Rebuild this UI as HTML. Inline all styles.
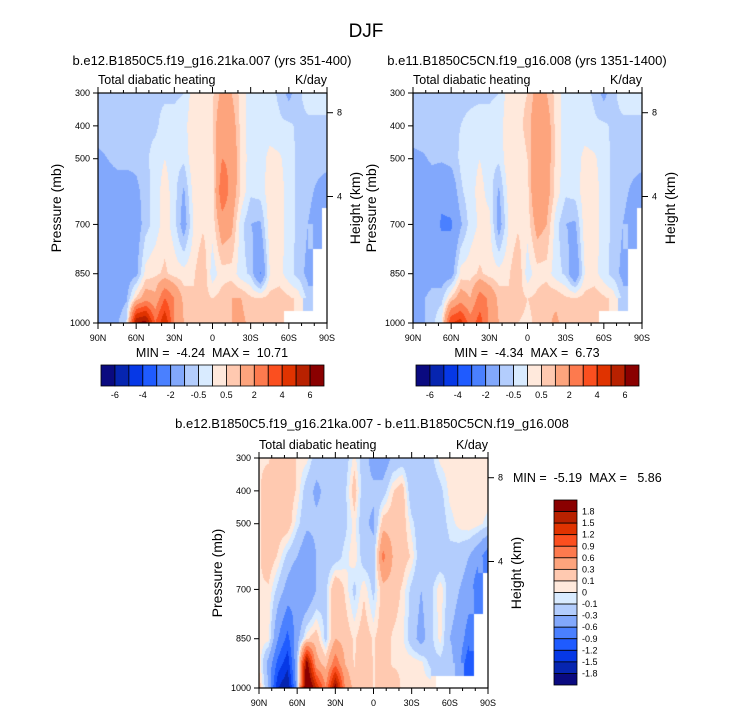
<!DOCTYPE html>
<html><head><meta charset="utf-8"><style>
body{margin:0;background:#fff;width:733px;height:712px;overflow:hidden;position:relative;font-family:"Liberation Sans",sans-serif}
canvas{position:absolute}
svg{position:absolute;left:0;top:0}
svg text{white-space:pre}
</style></head><body>
<canvas id="c1" width="229" height="230" style="left:98px;top:93px"></canvas>
<canvas id="c2" width="229" height="230" style="left:413px;top:93px"></canvas>
<canvas id="c3" width="229" height="230" style="left:259px;top:458px"></canvas>
<svg id="s" width="733" height="712"></svg>
<script>
const lats=[90,82.5,75,67.5,60,52.5,45,37.5,30,22.5,15,7.5,0,-7.5,-15,-22.5,-30,-37.5,-45,-52.5,-60,-67.5,-75,-82.5,-90];
const levels=[300,400,500,600,700,850,925,1000];
const N=NaN;
const field1=[
[-0.6,-0.6,-0.6,-0.6,-0.6,-0.6,-0.6,-0.6,-0.6,-0.5,0.3,0.3,0.4,1.2,1.0,0.3,-0.3,-0.3,-0.3,-0.6,-1.2,-0.6,-0.3,-0.3,-0.3],
[-0.6,-0.6,-0.6,-0.6,-0.6,-0.6,-0.6,-0.3,-0.3,-0.2,0.4,0.3,0.5,1.8,1.5,0.3,-0.3,-0.3,-0.3,-0.4,-0.4,-0.6,-0.6,-0.6,-0.6],
[-1.2,-1.0,-0.8,-0.8,-0.8,-0.6,-0.3,0.0,-0.3,-0.4,0.4,0.3,0.3,2.0,1.8,0.4,-0.3,-0.3,0.2,0.1,-0.3,-0.6,-0.6,-0.6,-0.6],
[-1.4,-1.4,-1.4,-1.4,-1.2,-0.7,-0.3,0.3,-0.3,-1.1,0.2,0.4,0.2,2.8,1.6,0.4,-0.4,-0.3,0.3,0.3,-0.3,-0.6,-0.7,-1.2,-1.6],
[-1.4,-1.4,-1.4,-1.4,-1.4,-0.7,-0.3,0.3,-0.3,-1.4,0.0,0.4,0.2,1.5,1.2,-0.3,-1.0,-1.1,0.3,0.3,-0.3,-0.6,-1.0,-1.6,N],
[-1.4,-1.4,-1.8,-1.4,-1.2,0.2,0.4,0.6,0.3,0.2,0.4,1.0,-0.3,0.3,0.3,-0.3,-0.6,-2.1,0.0,0.2,-0.3,-0.7,-1.2,N,N],
[-1.4,-1.4,-1.4,-1.1,0.6,1.5,1.2,3.0,2.0,0.8,0.6,0.7,0.5,0.7,1.0,1.0,0.6,0.5,0.7,0.8,0.6,0.3,-0.7,N,N],
[-1.4,-1.4,-1.1,-0.4,6.0,6.5,3.0,5.0,2.0,1.0,0.7,0.5,0.5,0.7,1.0,1.2,0.8,0.6,0.8,0.6,N,N,N,N,N]];
const field2=[
[-0.6,-0.6,-0.6,-0.6,-0.6,-0.6,-0.6,-0.6,-0.6,-0.5,0.3,0.4,0.5,1.3,1.0,0.3,-0.3,-0.3,-0.3,-0.6,-1.2,-0.6,-0.3,-0.3,-0.3],
[-0.6,-0.6,-0.6,-0.6,-0.6,-0.5,-0.4,-0.3,-0.3,-0.2,0.3,0.4,0.6,1.8,1.5,0.3,-0.3,-0.3,-0.3,-0.4,-0.4,-0.6,-0.6,-0.6,-0.6],
[-1.2,-1.1,-0.9,-0.9,-0.8,-0.4,-0.2,0.0,-0.3,-0.4,0.4,0.3,0.5,1.8,1.5,0.3,-0.3,-0.3,0.2,0.1,-0.3,-0.6,-0.6,-0.6,-0.6],
[-1.4,-1.4,-1.4,-1.8,-1.6,-0.6,-0.2,0.2,-0.2,-1.1,0.2,0.4,0.3,2.0,1.4,0.3,-0.4,-0.3,0.3,0.3,-0.3,-0.6,-0.7,-1.2,-1.6],
[-1.4,-1.4,-1.6,-2.1,-2.1,-1.1,-0.3,0.1,0.2,-1.4,0.0,0.4,0.2,1.3,1.0,-0.3,-1.0,-1.1,0.3,0.3,-0.3,-0.6,-1.0,-1.6,N],
[-1.4,-1.6,-1.4,-1.4,-1.4,0.2,0.3,0.6,0.3,0.2,0.4,1.0,-0.3,0.3,0.3,-0.3,-0.6,-1.8,0.0,0.2,-0.3,-0.7,-1.2,N,N],
[-1.4,-1.1,-0.7,-0.7,0.6,1.5,1.0,2.5,1.8,0.8,0.6,0.7,0.5,0.6,0.9,0.9,0.6,0.5,0.7,0.8,0.6,0.3,-0.7,N,N],
[-1.4,-1.1,-0.7,0.0,4.0,4.5,2.5,3.5,1.8,1.0,0.7,0.5,0.4,0.6,0.9,1.1,0.8,0.6,0.8,0.6,N,N,N,N,N]];
const field3=[
[0.08,0.08,0.2,0.2,0.08,0.04,-0.2,-0.25,-0.25,-0.2,0.04,-0.2,-0.4,-0.5,-0.25,-0.2,-0.25,-0.2,-0.15,0.04,0.08,0.08,0.08,0.08,0.08],
[0.08,0.2,0.2,0.2,0.08,-0.2,-0.35,-0.25,-0.2,-0.15,0.2,-0.25,-0.25,-0.2,0.08,0.2,-0.25,-0.25,-0.25,-0.15,0.04,0.08,0.08,0.08,0.08],
[0.08,0.2,0.2,0.2,-0.05,-0.25,-0.25,-0.25,-0.2,-0.15,0.04,-0.25,-0.35,0.2,0.2,0.2,-0.05,-0.25,-0.25,-0.2,-0.05,0.04,0.08,0.04,-0.05],
[0.08,0.2,0.08,-0.15,-0.3,-0.5,-0.3,-0.25,-0.2,-0.05,0.08,-0.2,-0.2,0.7,0.3,0.2,0.08,-0.25,-0.25,-0.25,-0.15,-0.2,-0.3,-0.5,-0.8],
[0.08,0.08,-0.15,-0.4,-0.6,-0.6,-0.3,-0.15,0.3,0.08,-0.15,0.08,-0.15,0.2,0.2,0.08,-0.15,-0.3,-0.15,0.08,-0.2,-0.3,-0.4,-0.9,N],
[0.08,0.04,-0.6,-1.0,-0.4,0.08,0.2,-0.15,0.3,0.2,0.08,0.2,0.08,0.2,0.08,0.04,-0.2,-0.4,-0.15,0.04,-0.3,-0.4,-0.8,N,N],
[0.08,-0.4,-1.0,-1.4,-0.3,2.0,0.4,0.2,0.8,0.3,0.08,0.3,0.08,0.2,0.08,0.08,0.08,0.04,-0.15,-0.15,-0.2,-0.5,-1.2,N,N],
[0.2,-0.3,-1.5,-1.8,-0.4,2.5,1.5,0.6,2.0,0.6,0.2,0.3,0.08,0.2,0.2,0.08,0.08,0.04,0.08,N,N,N,N,N,N]];
const bounds12=[-6,-5,-4,-3,-2,-1,-0.5,0,0.5,1,2,3,4,5,6];
const bounds3=[-1.8,-1.5,-1.2,-0.9,-0.6,-0.3,-0.1,0,0.1,0.3,0.6,0.9,1.2,1.5,1.8];
const cbLabels12=["-6","-4","-2","-0.5","0.5","2","4","6"];
const cbLabels3=["1.8","1.5","1.2","0.9","0.6","0.3","0.1","0","-0.1","-0.3","-0.6","-0.9","-1.2","-1.5","-1.8"];
const xTickLabels=["90N","60N","30N","0","30S","60S","90S"];
const yTickLabels=[300,400,500,700,850,1000];
const hTicks=[{k:8,p:360},{k:4,p:615}];
const colors=["#0a0a80","#0625b0","#0638e6","#1f5bff","#4a80ff","#82a8fc","#b3cdfd","#d9ebff","#ffe9dc","#ffc9b0","#fda47d","#fd7a4e","#fb4f1f","#e03300","#b82100","#8a0000"];
const PW=229,PH=230;

function color(v,b){let i=0;while(i<b.length&&v>=b[i])i++;return colors[i];}
function hex(c){return [parseInt(c.substr(1,2),16),parseInt(c.substr(3,2),16),parseInt(c.substr(5,2),16)];}
function sample(f,li,pj){
  const i0=Math.min(Math.floor(li),lats.length-2),j0=Math.min(Math.floor(pj),levels.length-2);
  const fx=li-i0,fy=pj-j0;
  const a=f[j0][i0],b=f[j0][i0+1],c=f[j0+1][i0],d=f[j0+1][i0+1];
  if(isNaN(a)||isNaN(b)||isNaN(c)||isNaN(d)){
    const n=f[Math.round(pj)][Math.round(li)];return n;}
  return a*(1-fx)*(1-fy)+b*fx*(1-fy)+c*(1-fx)*fy+d*fx*fy;
}
function pIndex(p){for(let j=0;j<levels.length-1;j++){if(p<=levels[j+1])return j+(p-levels[j])/(levels[j+1]-levels[j]);}return levels.length-1;}
function drawField(id,f,b){
  const cv=document.getElementById(id),ctx=cv.getContext('2d');
  const img=ctx.createImageData(PW,PH);
  const cache={};
  for(let y=0;y<PH;y++){const p=300+700*(y+0.5)/PH;const pj=pIndex(p);
    for(let x=0;x<PW;x++){const lat=90-180*(x+0.5)/PW;const li=(90-lat)/7.5;
      const v=sample(f,li,pj);let rgb;
      if(isNaN(v))rgb=[255,255,255];else{const c=color(v,b);rgb=cache[c]||(cache[c]=hex(c));}
      const k=(y*PW+x)*4;img.data[k]=rgb[0];img.data[k+1]=rgb[1];img.data[k+2]=rgb[2];img.data[k+3]=255;}}
  ctx.putImageData(img,0,0);
}
drawField('c1',field1,bounds12);drawField('c2',field2,bounds12);drawField('c3',field3,bounds3);

const S=document.getElementById('s');const NS='http://www.w3.org/2000/svg';
function el(t,a,txt){const e=document.createElementNS(NS,t);for(const k in a)e.setAttribute(k,a[k]);if(txt!==undefined)e.textContent=txt;S.appendChild(e);return e;}
function text(x,y,s,size,anchor,name,rot){const a={x:x,y:y,'font-size':size,'text-anchor':anchor||'middle',fill:'#000'};if(rot)a.transform='rotate(-90 '+x+' '+y+')';const e=el('text',a,s);return e;}
text(366,37,'DJF',19,'middle','main-title');

function axes(L,T,title,tx,ty,pre){
  const R=L+PW,B=T+PH;
  const fr=el('rect',{x:L,y:T,width:PW,height:PH,fill:'none',stroke:'#000','stroke-width':1.2});
  
  text(tx,ty,title,13,'middle',pre+'-title');
  text(L,T-9,'Total diabatic heating',12.5,'start',pre+'-variable-label');
  text(R,T-9,'K/day',12.5,'end',pre+'-units-label');
  for(let d=90;d>=-90;d-=10){const x=L+PW*(90-d)/180;const maj=d%30===0;
    el('line',{x1:x,x2:x,y1:B,y2:B+(maj?6:3),stroke:'#000'});el('line',{x1:x,x2:x,y1:T,y2:T-(maj?6:3),stroke:'#000'});}
  xTickLabels.forEach((s,i)=>{text(L+PW*i/6,B+18,s,9,'middle',pre+'-x-tick-label');});
  yTickLabels.forEach(p=>{const y=T+PH*(p-300)/700;el('line',{x1:L-5,x2:L,y1:y,y2:y,stroke:'#000'});text(L-8,y+3,String(p),9,'end',pre+'-y-tick-label');});
  hTicks.forEach(h=>{const y=T+PH*(h.p-300)/700;el('line',{x1:R,x2:R+6,y1:y,y2:y,stroke:'#000'});text(R+10,y+3,String(h.k),9,'start',pre+'-height-tick-label');});
  text(L-37,T+PH/2,'Pressure (mb)',14,'middle',pre+'-y-axis-title',true);
  text(R+33,T+PH/2,'Height (km)',14,'middle',pre+'-height-axis-title',true);
}
axes(98,93,'b.e12.B1850C5.f19_g16.21ka.007 (yrs 351-400)',212,65,'panel1');
axes(413,93,'b.e11.B1850C5CN.f19_g16.008 (yrs 1351-1400)',527,65,'panel2');
axes(259,458,'b.e12.B1850C5.f19_g16.21ka.007 - b.e11.B1850C5CN.f19_g16.008',372,428,'diff');
text(212,357,'MIN =  -4.24  MAX =  10.71',12.5,'middle','panel1-min-max');
text(527,357,'MIN =  -4.34  MAX =  6.73',12.5,'middle','panel2-min-max');
text(513,482,'MIN =  -5.19  MAX =   5.86',12.5,'start','diff-min-max');

function hbar(L,T,pre){const W=223,H=21,w=W/16;
  colors.forEach((c,i)=>{const r=el('rect',{x:L+i*w,y:T,width:w,height:H,fill:c,stroke:'#000','stroke-width':0.8});});
  cbLabels12.forEach((s,i)=>text(L+w*(1+2*i),T+H+12,s,9,'middle',pre+'-colorbar-label'));}
hbar(101,365,'panel1');hbar(416,365,'panel2');
(function(){const L=554,T=500,W=23,H=185,h=H/16;
  colors.slice().reverse().forEach((c,i)=>{const r=el('rect',{x:L,y:T+i*h,width:W,height:h,fill:c,stroke:'#000','stroke-width':0.8});});
  cbLabels3.forEach((s,i)=>text(L+W+5,T+h*(i+1)+3,s,9,'start','diff-colorbar-label'));})();
</script>
</body></html>
